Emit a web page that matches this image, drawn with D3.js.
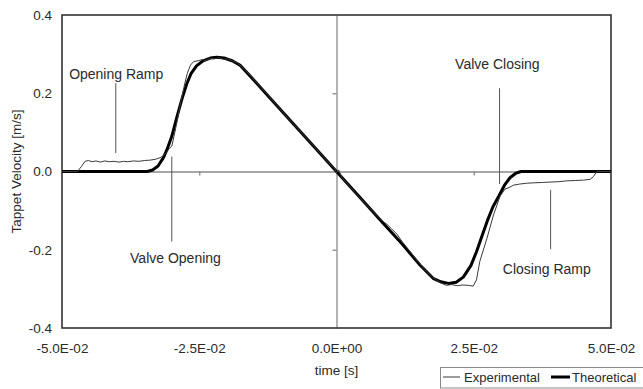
<!DOCTYPE html>
<html>
<head>
<meta charset="utf-8">
<script src="https://cdn.jsdelivr.net/npm/d3@7"></script>
<style>
  html, body { margin: 0; padding: 0; background: #fff; }
  svg { display: block; font-family: "Liberation Sans", Arial, sans-serif; }
</style>
</head>
<body>
<svg id="chart" width="643" height="389"></svg>
<script>
// Tappet velocity over one cam event: measured vs. theoretical profile
const xTicks = [-0.05, -0.025, 0, 0.025, 0.05];
const xTickLabels = ["-5.0E-02", "-2.5E-02", "0.0E+00", "2.5E-02", "5.0E-02"];
const yTicks = [-0.4, -0.2, 0, 0.2, 0.4];
const yTickLabels = ["-0.4", "-0.2", "0.0", "0.2", "0.4"];

// theoretical profile [time s, velocity m/s]
const theoretical = [
  [-0.0500, 0], [-0.0345, 0], [-0.0335, 0.004], [-0.0325, 0.014], [-0.0315, 0.036],
  [-0.0309, 0.055], [-0.0300, 0.090], [-0.0291, 0.138], [-0.0282, 0.183], [-0.0273, 0.223],
  [-0.0265, 0.250], [-0.0255, 0.270], [-0.0243, 0.283], [-0.0230, 0.290], [-0.0218, 0.292],
  [-0.0205, 0.290], [-0.0190, 0.283], [-0.0176, 0.272], [-0.0158, 0.245], [-0.0120, 0.186],
  [-0.0080, 0.124], [-0.0040, 0.062], [0, 0], [0.0040, -0.062], [0.0085, -0.132],
  [0.0120, -0.186], [0.0152, -0.239], [0.0176, -0.273], [0.0190, -0.282], [0.0204, -0.286],
  [0.0218, -0.283], [0.0231, -0.270], [0.0245, -0.240], [0.0255, -0.205], [0.0265, -0.165],
  [0.0275, -0.125], [0.0285, -0.090], [0.0296, -0.062], [0.0306, -0.035], [0.0316, -0.016],
  [0.0326, -0.005], [0.0336, 0], [0.0500, 0]
];

// measured profile [time s, velocity m/s]
const experimental = [
  [-0.0500, 0], [-0.0472, 0], [-0.0465, 0.012], [-0.0458, 0.026], [-0.0452, 0.028],
  [-0.0445, 0.025], [-0.0438, 0.027], [-0.0430, 0.024], [-0.0422, 0.027], [-0.0414, 0.025],
  [-0.0405, 0.026], [-0.0396, 0.024], [-0.0388, 0.026], [-0.0380, 0.025], [-0.0370, 0.027],
  [-0.0360, 0.026], [-0.0350, 0.028], [-0.0340, 0.029], [-0.0330, 0.031], [-0.0320, 0.036],
  [-0.0312, 0.045], [-0.0305, 0.058], [-0.0300, 0.065], [-0.0296, 0.090], [-0.0290, 0.130],
  [-0.0284, 0.175], [-0.0278, 0.215], [-0.0272, 0.250], [-0.0266, 0.272], [-0.0260, 0.281],
  [-0.0252, 0.283], [-0.0245, 0.286], [-0.0238, 0.284], [-0.0230, 0.289], [-0.0222, 0.288],
  [-0.0214, 0.291], [-0.0206, 0.287], [-0.0198, 0.288], [-0.0190, 0.283], [-0.0180, 0.277],
  [-0.0165, 0.258], [-0.0150, 0.234], [-0.0130, 0.203], [-0.0110, 0.171], [-0.0090, 0.139],
  [-0.0070, 0.109], [-0.0050, 0.078], [-0.0030, 0.047], [-0.0010, 0.016], [-0.0004, 0.010],
  [0.0000, -0.003], [0.0004, 0.004], [0.0010, -0.016], [0.0030, -0.047], [0.0050, -0.078],
  [0.0070, -0.108], [0.0085, -0.128], [0.0092, -0.135], [0.0100, -0.146], [0.0110, -0.160],
  [0.0120, -0.180], [0.0140, -0.215], [0.0160, -0.250], [0.0175, -0.270], [0.0190, -0.285],
  [0.0200, -0.291], [0.0210, -0.289], [0.0220, -0.292], [0.0230, -0.290], [0.0240, -0.291],
  [0.0249, -0.293], [0.0255, -0.277], [0.0261, -0.230], [0.0274, -0.171], [0.0286, -0.111],
  [0.0298, -0.063], [0.0307, -0.045], [0.0316, -0.040], [0.0322, -0.035], [0.0334, -0.032],
  [0.0346, -0.030], [0.0358, -0.029], [0.0375, -0.028], [0.0389, -0.027], [0.0405, -0.026],
  [0.0419, -0.024], [0.0435, -0.023], [0.0450, -0.022], [0.0462, -0.020], [0.0468, -0.013],
  [0.0474, 0], [0.0500, 0]
];

// callouts: label, leader-line time, leader top/bottom velocity, text position
const callouts = [
  { text: "Opening Ramp",  lx: -0.0402, ly: [0.226, 0.047],  tx: -0.0487, ty: 0.236 },
  { text: "Valve Opening", lx: -0.0300, ly: [0.038, -0.179], tx: -0.0376, ty: -0.233 },
  { text: "Valve Closing", lx:  0.0297, ly: [0.213, -0.032], tx:  0.0216, ty: 0.262 },
  { text: "Closing Ramp",  lx:  0.0390, ly: [-0.047, -0.199], tx: 0.0303, ty: -0.262 }
];

const svg = d3.select("#chart");
const plotL = 62, plotR = 611, plotT = 15, plotB = 328;
const textColor = "#2a2a2a";

const x = d3.scaleLinear().domain([-0.05, 0.05]).range([plotL, plotR]);
const y = d3.scaleLinear().domain([-0.4, 0.4]).range([plotB, plotT]);

// zero axes with small ticks
const zx = svg.append("g")
  .attr("transform", `translate(0,${y(0)})`)
  .call(d3.axisBottom(x).tickValues([-0.025, 0.025]).tickSize(4).tickSizeOuter(0).tickFormat(""));
const zy = svg.append("g")
  .attr("transform", `translate(${x(0)},0)`)
  .call(d3.axisLeft(y).tickValues([-0.2, 0.2]).tickSize(4).tickSizeOuter(0).tickFormat(""));
[zx, zy].forEach(g => {
  g.selectAll("path, line").attr("stroke", "#8a8a8a").attr("stroke-width", 1.3);
});

// tick labels along the frame edges
const xa = svg.append("g")
  .attr("transform", `translate(0,${plotB})`)
  .call(d3.axisBottom(x).tickValues(xTicks).tickSize(0)
    .tickFormat((d, i) => xTickLabels[i]));
xa.select(".domain").remove();
xa.selectAll("text").attr("y", 25).attr("dy", null)
  .attr("font-size", 13.5).attr("fill", textColor).attr("font-family", null);

const ya = svg.append("g")
  .attr("transform", `translate(${plotL},0)`)
  .call(d3.axisLeft(y).tickValues(yTicks).tickSize(0).tickPadding(10)
    .tickFormat((d, i) => yTickLabels[i]));
ya.select(".domain").remove();
ya.selectAll("text").attr("font-size", 13.5).attr("fill", textColor).attr("font-family", null);

// plot frame
svg.append("rect")
  .attr("x", plotL).attr("y", plotT)
  .attr("width", plotR - plotL).attr("height", plotB - plotT)
  .attr("fill", "none").attr("stroke", "#333").attr("stroke-width", 1.6);

// axis titles
svg.append("text")
  .attr("x", (plotL + plotR) / 2).attr("y", 375)
  .attr("text-anchor", "middle").attr("font-size", 13.5).attr("fill", textColor)
  .text("time [s]");
svg.append("text")
  .attr("transform", `translate(21,${(plotT + plotB) / 2}) rotate(-90)`)
  .attr("text-anchor", "middle").attr("font-size", 13.5).attr("fill", textColor)
  .text("Tappet Velocity [m/s]");

// series
const line = d3.line().x(d => x(d[0])).y(d => y(d[1]));
svg.append("path").datum(theoretical)
  .attr("d", line).attr("fill", "none")
  .attr("stroke", "#000").attr("stroke-width", 3).attr("stroke-linejoin", "round");
svg.append("path").datum(experimental)
  .attr("d", line).attr("fill", "none")
  .attr("stroke", "#3a3a3a").attr("stroke-width", 1).attr("stroke-linejoin", "round");

// callouts
callouts.forEach(c => {
  svg.append("line")
    .attr("x1", x(c.lx)).attr("x2", x(c.lx))
    .attr("y1", y(c.ly[0])).attr("y2", y(c.ly[1]))
    .attr("stroke", "#555").attr("stroke-width", 1);
  svg.append("text")
    .attr("x", x(c.tx)).attr("y", y(c.ty))
    .attr("font-size", 14).attr("fill", textColor)
    .text(c.text);
});

// legend
const lg = svg.append("g");
lg.append("rect").attr("x", 440.5).attr("y", 367.5).attr("width", 210).attr("height", 20.5)
  .attr("fill", "#fff").attr("stroke", "#8a8a8a").attr("stroke-width", 1);
lg.append("line").attr("x1", 443).attr("x2", 460).attr("y1", 377).attr("y2", 377)
  .attr("stroke", "#3a3a3a").attr("stroke-width", 1);
lg.append("text").attr("x", 464).attr("y", 382).attr("font-size", 13).attr("fill", textColor)
  .text("Experimental");
lg.append("line").attr("x1", 551).attr("x2", 570).attr("y1", 377).attr("y2", 377)
  .attr("stroke", "#000").attr("stroke-width", 3);
lg.append("text").attr("x", 572).attr("y", 382).attr("font-size", 13).attr("fill", textColor)
  .text("Theoretical");
</script>
</body>
</html>
